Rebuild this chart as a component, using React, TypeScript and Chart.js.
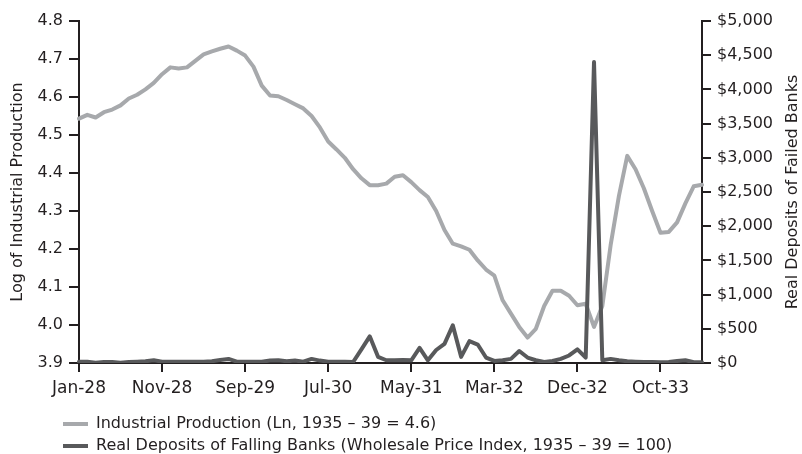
import React, { useEffect, useRef } from 'react';
import { Chart, registerables } from 'chart.js';

Chart.register(...registerables);

// Monthly categories, Jan-28 .. Apr-34
const categories = [
  'Jan-28','Feb-28','Mar-28','Apr-28','May-28','Jun-28','Jul-28','Aug-28','Sep-28','Oct-28','Nov-28','Dec-28',
  'Jan-29','Feb-29','Mar-29','Apr-29','May-29','Jun-29','Jul-29','Aug-29','Sep-29','Oct-29','Nov-29','Dec-29',
  'Jan-30','Feb-30','Mar-30','Apr-30','May-30','Jun-30','Jul-30','Aug-30','Sep-30','Oct-30','Nov-30','Dec-30',
  'Jan-31','Feb-31','Mar-31','Apr-31','May-31','Jun-31','Jul-31','Aug-31','Sep-31','Oct-31','Nov-31','Dec-31',
  'Jan-32','Feb-32','Mar-32','Apr-32','May-32','Jun-32','Jul-32','Aug-32','Sep-32','Oct-32','Nov-32','Dec-32',
  'Jan-33','Feb-33','Mar-33','Apr-33','May-33','Jun-33','Jul-33','Aug-33','Sep-33','Oct-33','Nov-33','Dec-33',
  'Jan-34','Feb-34','Mar-34','Apr-34'
];

// Tick labels shown every 10th month
const xTickLabels = ['Jan-28', 'Nov-28', 'Sep-29', 'Jul-30', 'May-31', 'Mar-32', 'Dec-32', 'Oct-33'];

// Log of industrial production
const industrialProduction = [
  4.543, 4.553, 4.546, 4.560, 4.567, 4.578, 4.596, 4.606, 4.620, 4.637,
  4.660, 4.678, 4.675, 4.678, 4.695, 4.712, 4.720, 4.727, 4.733, 4.722,
  4.709, 4.680, 4.630, 4.604, 4.602, 4.592, 4.581, 4.570, 4.550, 4.520,
  4.483, 4.462, 4.440, 4.410, 4.386, 4.368, 4.368, 4.372, 4.390, 4.394,
  4.376, 4.355, 4.337, 4.300, 4.250, 4.214, 4.207, 4.198, 4.170, 4.146,
  4.130, 4.065, 4.030, 3.995, 3.967, 3.990, 4.050, 4.090, 4.090, 4.077,
  4.052, 4.056, 3.995, 4.050, 4.210, 4.340, 4.445, 4.410, 4.360, 4.300,
  4.243, 4.245, 4.270, 4.320, 4.365, 4.369
];

// Real deposits of failed banks ($)
const failedBankDeposits = [
  20, 20, 5, 15, 15, 5, 15, 20, 25, 40,
  20, 20, 20, 20, 20, 20, 25, 45, 60, 20,
  20, 20, 20, 35, 40, 25, 35, 20, 60, 35,
  20, 20, 20, 15, 200, 390, 90, 40, 40, 45,
  40, 220, 40, 190, 280, 550, 90, 320, 270, 80,
  30, 40, 60, 175, 80, 40, 15, 30, 60, 110,
  200, 80, 4400, 40, 60, 40, 25, 20, 15, 15,
  10, 15, 30, 40, 10, 10
];

const seriesLabels = [
  'Industrial Production (Ln, 1935 \u2013 39 = 4.6)',
  'Real Deposits of Falling Banks (Wholesale Price Index, 1935 \u2013 39 = 100)'
];
const leftAxisTitle = 'Log of Industrial Production';
const rightAxisTitle = 'Real Deposits of Failed Banks';

const FONT = '"DejaVu Sans", sans-serif';
const TEXT = '#231f20';
const AXIS = '#231f20';
const LIGHT = '#a7a9ac';
const DARK = '#58595b';

const legendPlacePlugin = {
  id: 'legendPlace',
  afterLayout(chart: any) {
    const lg = chart.legend;
    if (lg) {
      lg.left = 57;
      lg.top = 410;
    }
  }
};

const rightTitlePlugin = {
  id: 'rightTitle',
  afterDraw(chart: any) {
    const { ctx, chartArea } = chart;
    ctx.save();
    ctx.translate(793, (chartArea.top + chartArea.bottom) / 2);
    ctx.rotate(-Math.PI / 2);
    ctx.font = '16px ' + FONT;
    ctx.fillStyle = TEXT;
    ctx.textAlign = 'center';
    ctx.textBaseline = 'middle';
    ctx.fillText(rightAxisTitle, 0, 0);
    ctx.restore();
  }
};

export default function App() {
  const ref = useRef<HTMLCanvasElement | null>(null);

  useEffect(() => {
    if (!ref.current) return;
    const chart = new Chart(ref.current, {
      type: 'line',
      data: {
        labels: categories,
        datasets: [
          {
            label: seriesLabels[0],
            data: industrialProduction,
            borderColor: LIGHT,
            backgroundColor: LIGHT,
            borderWidth: 4,
            pointRadius: 0,
            tension: 0,
            yAxisID: 'y',
            borderJoinStyle: 'round',
            borderCapStyle: 'round',
            order: 1
          },
          {
            label: seriesLabels[1],
            data: failedBankDeposits,
            borderColor: DARK,
            backgroundColor: DARK,
            borderWidth: 4,
            pointRadius: 0,
            tension: 0,
            yAxisID: 'y1',
            borderJoinStyle: 'round',
            borderCapStyle: 'round',
            order: 0
          }
        ]
      },
      options: {
        animation: false,
        responsive: false,
        devicePixelRatio: 1,
        layout: { padding: { top: 21, left: 0, right: 0, bottom: 0 } },
        plugins: {
          tooltip: { enabled: false },
          legend: {
            display: true,
            position: 'bottom',
            align: 'start',
            labels: {
              boxWidth: 25,
              boxHeight: 4,
              padding: 6,
              color: TEXT,
              font: { family: FONT, size: 16 },
              generateLabels: (c: any) =>
                c.data.datasets.map((d: any, i: number) => ({
                  text: d.label,
                  fillStyle: d.borderColor,
                  strokeStyle: d.borderColor,
                  lineWidth: 0,
                  hidden: false,
                  datasetIndex: i,
                  fontColor: TEXT
                }))
            }
          }
        },
        scales: {
          x: {
            type: 'category',
            offset: false,
            afterBuildTicks: (scale: any) => {
              scale.ticks = scale.ticks.filter((t: any) => t.value % 10 === 0);
            },
            afterFit: (scale: any) => {
              scale.height = 37;
            },
            ticks: {
              autoSkip: false,
              maxRotation: 0,
              minRotation: 0,
              padding: 6,
              color: TEXT,
              font: { family: FONT, size: 17 },
              callback: (value: any) => xTickLabels[Math.round(Number(value) / 10)]
            },
            grid: {
              drawOnChartArea: false,
              drawTicks: true,
              tickLength: 9,
              color: AXIS,
              lineWidth: 2
            },
            border: { display: true, color: AXIS, width: 2 }
          },
          y: {
            type: 'linear',
            position: 'left',
            min: 3.9,
            max: 4.8,
            afterFit: (scale: any) => {
              scale.width = 79;
            },
            ticks: {
              stepSize: 0.1,
              padding: 6,
              color: TEXT,
              font: { family: FONT, size: 16 },
              callback: (v: any) => Number(v).toFixed(1)
            },
            title: {
              display: true,
              text: leftAxisTitle,
              color: TEXT,
              font: { family: FONT, size: 16 },
              padding: { top: 8, bottom: 0 }
            },
            grid: {
              drawOnChartArea: false,
              drawTicks: true,
              tickLength: 10,
              color: AXIS,
              lineWidth: 2
            },
            border: { display: true, color: AXIS, width: 2 }
          },
          y1: {
            type: 'linear',
            position: 'right',
            min: 0,
            max: 5000,
            afterFit: (scale: any) => {
              scale.width = 100;
            },
            ticks: {
              stepSize: 500,
              padding: 6,
              color: TEXT,
              font: { family: FONT, size: 16 },
              callback: (v: any) => '$' + Number(v).toLocaleString('en-US')
            },
            grid: {
              drawOnChartArea: false,
              drawTicks: true,
              tickLength: 9,
              color: AXIS,
              lineWidth: 2
            },
            border: { display: true, color: AXIS, width: 2 }
          }
        }
      },
      plugins: [legendPlacePlugin, rightTitlePlugin]
    } as any);
    return () => chart.destroy();
  }, []);

  return (
    <div style={{ position: 'fixed', left: 0, top: 0, width: 802, height: 454, background: '#fff' }}>
      <canvas ref={ref} width={802} height={454} style={{ display: 'block' }} />
    </div>
  );
}
